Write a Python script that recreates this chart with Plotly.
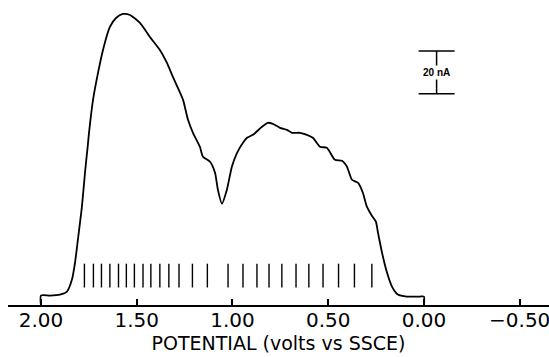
import plotly.graph_objects as go

# Voltammogram trace: potential (V vs SSCE) and current (nA, relative to baseline)
potential = [2.000, 2.000, 1.953, 1.901, 1.864, 1.838, 1.822, 1.807, 1.786, 1.770, 1.755, 1.749,
             1.728, 1.702, 1.676, 1.640, 1.608, 1.572, 1.535, 1.483, 1.431, 1.379, 1.342,
             1.311, 1.285, 1.258, 1.232, 1.206, 1.170, 1.154, 1.117, 1.091, 1.076, 1.055,
             1.029, 1.003, 0.976, 0.945, 0.924, 0.893, 0.846, 0.815, 0.789, 0.752, 0.715,
             0.689, 0.648, 0.611, 0.580, 0.543, 0.507, 0.465, 0.428, 0.402, 0.376, 0.345,
             0.319, 0.298, 0.272, 0.251, 0.240, 0.219, 0.193, 0.167, 0.136, 0.089, 0.021,
             0.000, 0.000]
current = [-4.4, 0.0, 0.0, 0.47, 1.86, 7.44, 15.35, 26.05, 41.40, 57.21, 70.23, 75.81,
           91.16, 103.72, 114.42, 125.12, 129.3, 131.16, 130.7, 126.98, 120.47, 114.42, 108.37,
           101.86, 96.74, 91.16, 81.86, 75.81, 69.30, 64.65, 62.33, 57.21, 49.30, 42.79,
           49.30, 60.0, 66.51, 71.16, 73.49, 74.88, 78.60, 80.47, 80.0, 78.14, 77.21,
           75.81, 75.81, 74.88, 73.49, 69.30, 68.84, 63.26, 62.79, 60.0, 53.95, 52.56,
           47.91, 41.40, 37.21, 34.42, 29.30, 20.0, 10.70, 4.19, 0.47, -0.47, -0.47,
           -0.47, -4.4]

# Potentials of the vertical event markers below the trace
marker_potentials = [1.773, 1.726, 1.684, 1.640, 1.595, 1.554, 1.512, 1.467, 1.426, 1.379,
                     1.332, 1.279, 1.209, 1.131, 1.023, 0.945, 0.872, 0.809, 0.742, 0.668,
                     0.601, 0.527, 0.446, 0.363, 0.272]
marker_level = 9.3

tick_values = [2.0, 1.5, 1.0, 0.5, 0.0, -0.5]
tick_labels = ["2.00", "1.50", "1.00", "0.50", "0.00", "\u22120.50"]

# Scale bar (20 nA)
scale_x = -0.066
scale_low = 93.95
scale_high = 113.95
scale_half_width = 0.094

fig = go.Figure()
fig.add_trace(go.Scatter(x=potential, y=current, mode="lines",
                         line=dict(color="black", width=1.8, shape="spline", smoothing=0.6),
                         hoverinfo="skip", showlegend=False))
fig.add_trace(go.Scatter(x=marker_potentials, y=[marker_level] * len(marker_potentials),
                         mode="markers",
                         marker=dict(symbol="line-ns-open", size=17, color="black",
                                     line=dict(color="black", width=1.4)),
                         hoverinfo="skip", showlegend=False))

# scale bar
fig.add_shape(type="line", x0=scale_x, x1=scale_x, y0=scale_low, y1=scale_high,
              line=dict(color="black", width=1.5))
for yy in (scale_low, scale_high):
    fig.add_shape(type="line", x0=scale_x - scale_half_width, x1=scale_x + scale_half_width,
                  y0=yy, y1=yy, line=dict(color="black", width=1.5))
fig.add_annotation(x=scale_x, y=(scale_low + scale_high) / 2, text="<b>20 nA</b>",
                   showarrow=False, bgcolor="white",
                   font=dict(family="Liberation Sans, Arial", size=10, color="black"))

fig.update_layout(
    width=549, height=357,
    margin=dict(l=8, r=0, t=5, b=52),
    paper_bgcolor="white", plot_bgcolor="white",
    xaxis=dict(range=[2.172, -0.653], tickvals=tick_values, ticktext=tick_labels,
               showgrid=False, zeroline=False, showline=True, linecolor="black", linewidth=2,
               ticks="inside", ticklen=6, tickwidth=1.5, tickcolor="black",
               ticklabelstandoff=-4, ticklabeloverflow="allow", automargin=False,
               tickfont=dict(family="DejaVu Sans", size=20, color="black"),
               title=dict(text="POTENTIAL (volts vs SSCE)", standoff=2,
                          font=dict(family="DejaVu Sans", size=19, color="black"))),
    yaxis=dict(range=[-4.4, 135.35], visible=False, showgrid=False, zeroline=False),
)

fig.write_html("out.html", config={"displayModeBar": False},
               post_script="document.body.style.margin='0';document.body.style.overflow='hidden';")
